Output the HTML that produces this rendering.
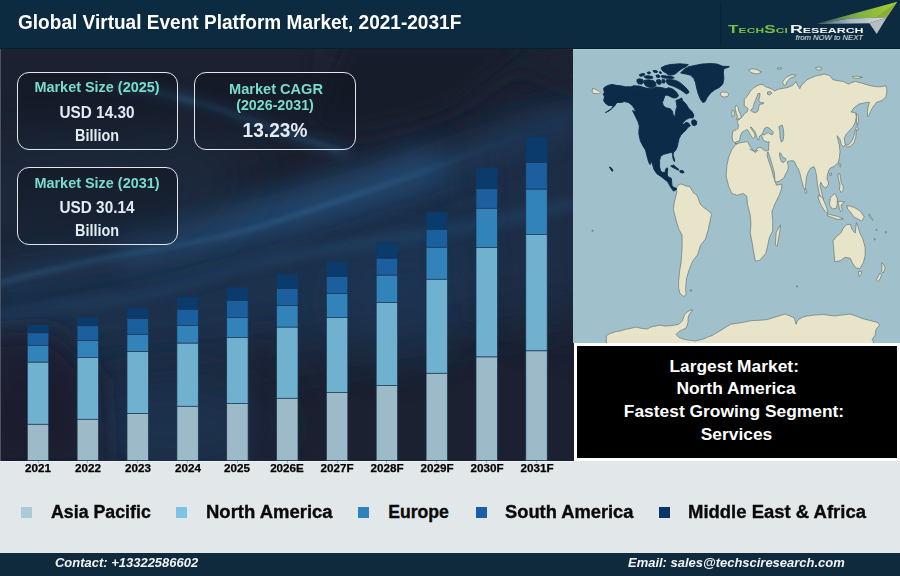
<!DOCTYPE html>
<html><head><meta charset="utf-8"><style>
*{margin:0;padding:0;box-sizing:border-box}
html,body{width:900px;height:576px;overflow:hidden;background:#e2e7e9}
body{position:relative;font-family:"Liberation Sans",sans-serif;font-weight:bold}
.t{position:absolute;white-space:nowrap;line-height:1}
.card{position:absolute;border:1.7px solid #e2e6ea;border-radius:12px;background:linear-gradient(180deg,rgba(16,19,30,0.55) 0%,rgba(16,22,36,0.4) 55%,rgba(18,34,54,0.25) 100%)}
</style></head><body>
<div style="position:absolute;left:0;top:0;width:900px;height:48.5px;background:#0c2a40"></div>
<div style="position:absolute;left:0;top:48.5px;width:574px;height:412px;background:#1c2230;overflow:hidden">
<svg width="574" height="412" viewBox="0 48.5 574 412" style="position:absolute;left:0;top:0">
<defs>
<filter id="b30" x="-50%" y="-50%" width="200%" height="200%"><feGaussianBlur stdDeviation="26"/></filter>
<filter id="b20" x="-50%" y="-50%" width="200%" height="200%"><feGaussianBlur stdDeviation="20"/></filter>
<filter id="b14" x="-50%" y="-50%" width="200%" height="200%"><feGaussianBlur stdDeviation="14"/></filter>
<filter id="b6" x="-50%" y="-50%" width="200%" height="200%"><feGaussianBlur stdDeviation="6"/></filter>
<filter id="b3" x="-50%" y="-50%" width="200%" height="200%"><feGaussianBlur stdDeviation="2.5"/></filter>
<linearGradient id="fadeR" x1="0" y1="0" x2="574" y2="0" gradientUnits="userSpaceOnUse"><stop offset="0" stop-color="#3a78a6" stop-opacity="0.5"/><stop offset="0.6" stop-color="#3a78a6" stop-opacity="0.45"/><stop offset="0.85" stop-color="#3a78a6" stop-opacity="0.1"/><stop offset="1" stop-color="#3a78a6" stop-opacity="0"/></linearGradient>
</defs>
<rect x="0" y="48" width="574" height="413" fill="#1b2130"/>
<polygon points="-30,290 150,252 300,212 420,172 600,110 600,300 420,330 250,360 -30,380" fill="#1d3452" opacity="0.8" filter="url(#b30)"/>
<ellipse cx="170" cy="425" rx="110" ry="55" fill="#1d3452" opacity="0.8" filter="url(#b20)"/>
<ellipse cx="400" cy="300" rx="70" ry="60" fill="#1d3654" opacity="0.6" filter="url(#b20)"/>
<polygon points="470,120 600,90 600,330 480,300" fill="#1c2c42" opacity="0.6" filter="url(#b30)"/>
<polygon points="330,48 600,48 600,95 520,60 500,70 455,102 405,120 360,130 320,125" fill="#1c2233" filter="url(#b14)"/>
<polygon points="350,44 525,44 509,54 494,66 450,102 405,117 360,126 320,120" fill="#191b29" filter="url(#b6)"/>
<path d="M120,250 C200,232 260,215 320,198 S400,172 440,160" fill="none" stroke="#2a5f92" stroke-width="40" opacity="0.45" filter="url(#b14)"/>
<path d="M-10,281 C100,255 220,232 300,212 S430,170 480,150 S550,125 590,112" fill="none" stroke="#27598a" stroke-width="18" opacity="0.45" filter="url(#b14)"/>
<path d="M-10,285 C60,266 120,254 180,244 S260,226 300,213 S400,180 460,157 S540,128 590,112" fill="none" stroke="url(#fadeR)" stroke-width="3.5" filter="url(#b3)"/>
<path d="M-10,318 C40,308 90,302 130,296 S200,277 240,266 S330,248 400,238 S520,215 590,200" fill="none" stroke="#2a5a85" stroke-width="9" opacity="0.4" filter="url(#b6)"/>
<path d="M110,84 C160,90 200,100 240,115 S300,138 350,152" fill="none" stroke="#2a5e8a" stroke-width="10" opacity="0.45" filter="url(#b6)"/>
<path d="M120,86 C165,92 200,101 240,116 S300,138 340,150" fill="none" stroke="#4580ad" stroke-width="2.2" opacity="0.55" filter="url(#b3)"/>
<polygon points="-20,335 55,330 100,380 105,470 -20,470" fill="#1a1f2d" opacity="0.85" filter="url(#b14)"/>
<polygon points="250,330 275,330 280,470 245,470" fill="#1a1f2d" opacity="0.6" filter="url(#b14)"/>
<polygon points="-20,150 200,130 260,170 200,240 -20,260" fill="#1d2d44" opacity="0.6" filter="url(#b30)"/>
</svg>
<div style="position:absolute;left:0;top:0;width:1.2px;height:412px;background:#4a5265"></div>
</div>
<svg width="900" height="576" style="position:absolute;left:0;top:0">
<rect x="27.3" y="324.9" width="21.4" height="8.0" fill="#0b3a6d" stroke="#1a3550" stroke-width="0.7"/>
<rect x="27.3" y="332.9" width="21.4" height="12.4" fill="#1c5f9f" stroke="#1a3550" stroke-width="0.7"/>
<rect x="27.3" y="345.3" width="21.4" height="16.9" fill="#3283ba" stroke="#1a3550" stroke-width="0.7"/>
<rect x="27.3" y="362.2" width="21.4" height="62.1" fill="#70b1d0" stroke="#1a3550" stroke-width="0.7"/>
<rect x="27.3" y="424.3" width="21.4" height="36.2" fill="#9dbac8" stroke="#1a3550" stroke-width="0.7"/>
<rect x="77.1" y="317.2" width="21.4" height="8.6" fill="#0b3a6d" stroke="#1a3550" stroke-width="0.7"/>
<rect x="77.1" y="325.8" width="21.4" height="14.7" fill="#1c5f9f" stroke="#1a3550" stroke-width="0.7"/>
<rect x="77.1" y="340.5" width="21.4" height="16.9" fill="#3283ba" stroke="#1a3550" stroke-width="0.7"/>
<rect x="77.1" y="357.4" width="21.4" height="61.9" fill="#70b1d0" stroke="#1a3550" stroke-width="0.7"/>
<rect x="77.1" y="419.3" width="21.4" height="41.2" fill="#9dbac8" stroke="#1a3550" stroke-width="0.7"/>
<rect x="127.0" y="308.0" width="21.4" height="10.7" fill="#0b3a6d" stroke="#1a3550" stroke-width="0.7"/>
<rect x="127.0" y="318.7" width="21.4" height="15.6" fill="#1c5f9f" stroke="#1a3550" stroke-width="0.7"/>
<rect x="127.0" y="334.3" width="21.4" height="17.3" fill="#3283ba" stroke="#1a3550" stroke-width="0.7"/>
<rect x="127.0" y="351.6" width="21.4" height="61.9" fill="#70b1d0" stroke="#1a3550" stroke-width="0.7"/>
<rect x="127.0" y="413.5" width="21.4" height="47.0" fill="#9dbac8" stroke="#1a3550" stroke-width="0.7"/>
<rect x="176.9" y="297.0" width="21.4" height="12.4" fill="#0b3a6d" stroke="#1a3550" stroke-width="0.7"/>
<rect x="176.9" y="309.4" width="21.4" height="16.0" fill="#1c5f9f" stroke="#1a3550" stroke-width="0.7"/>
<rect x="176.9" y="325.4" width="21.4" height="17.8" fill="#3283ba" stroke="#1a3550" stroke-width="0.7"/>
<rect x="176.9" y="343.2" width="21.4" height="63.1" fill="#70b1d0" stroke="#1a3550" stroke-width="0.7"/>
<rect x="176.9" y="406.3" width="21.4" height="54.2" fill="#9dbac8" stroke="#1a3550" stroke-width="0.7"/>
<rect x="226.7" y="287.2" width="21.4" height="13.4" fill="#0b3a6d" stroke="#1a3550" stroke-width="0.7"/>
<rect x="226.7" y="300.6" width="21.4" height="16.8" fill="#1c5f9f" stroke="#1a3550" stroke-width="0.7"/>
<rect x="226.7" y="317.4" width="21.4" height="20.1" fill="#3283ba" stroke="#1a3550" stroke-width="0.7"/>
<rect x="226.7" y="337.5" width="21.4" height="66.0" fill="#70b1d0" stroke="#1a3550" stroke-width="0.7"/>
<rect x="226.7" y="403.5" width="21.4" height="57.0" fill="#9dbac8" stroke="#1a3550" stroke-width="0.7"/>
<rect x="276.6" y="274.2" width="21.4" height="14.3" fill="#0b3a6d" stroke="#1a3550" stroke-width="0.7"/>
<rect x="276.6" y="288.5" width="21.4" height="17.0" fill="#1c5f9f" stroke="#1a3550" stroke-width="0.7"/>
<rect x="276.6" y="305.5" width="21.4" height="21.7" fill="#3283ba" stroke="#1a3550" stroke-width="0.7"/>
<rect x="276.6" y="327.2" width="21.4" height="71.1" fill="#70b1d0" stroke="#1a3550" stroke-width="0.7"/>
<rect x="276.6" y="398.3" width="21.4" height="62.2" fill="#9dbac8" stroke="#1a3550" stroke-width="0.7"/>
<rect x="326.4" y="261.5" width="21.4" height="15.0" fill="#0b3a6d" stroke="#1a3550" stroke-width="0.7"/>
<rect x="326.4" y="276.5" width="21.4" height="17.0" fill="#1c5f9f" stroke="#1a3550" stroke-width="0.7"/>
<rect x="326.4" y="293.5" width="21.4" height="24.0" fill="#3283ba" stroke="#1a3550" stroke-width="0.7"/>
<rect x="326.4" y="317.5" width="21.4" height="74.9" fill="#70b1d0" stroke="#1a3550" stroke-width="0.7"/>
<rect x="326.4" y="392.4" width="21.4" height="68.1" fill="#9dbac8" stroke="#1a3550" stroke-width="0.7"/>
<rect x="376.2" y="242.3" width="21.4" height="16.0" fill="#0b3a6d" stroke="#1a3550" stroke-width="0.7"/>
<rect x="376.2" y="258.3" width="21.4" height="16.9" fill="#1c5f9f" stroke="#1a3550" stroke-width="0.7"/>
<rect x="376.2" y="275.2" width="21.4" height="27.3" fill="#3283ba" stroke="#1a3550" stroke-width="0.7"/>
<rect x="376.2" y="302.5" width="21.4" height="82.9" fill="#70b1d0" stroke="#1a3550" stroke-width="0.7"/>
<rect x="376.2" y="385.4" width="21.4" height="75.1" fill="#9dbac8" stroke="#1a3550" stroke-width="0.7"/>
<rect x="426.1" y="212.1" width="21.4" height="17.4" fill="#0b3a6d" stroke="#1a3550" stroke-width="0.7"/>
<rect x="426.1" y="229.5" width="21.4" height="17.8" fill="#1c5f9f" stroke="#1a3550" stroke-width="0.7"/>
<rect x="426.1" y="247.3" width="21.4" height="32.0" fill="#3283ba" stroke="#1a3550" stroke-width="0.7"/>
<rect x="426.1" y="279.3" width="21.4" height="94.0" fill="#70b1d0" stroke="#1a3550" stroke-width="0.7"/>
<rect x="426.1" y="373.3" width="21.4" height="87.2" fill="#9dbac8" stroke="#1a3550" stroke-width="0.7"/>
<rect x="476.0" y="167.8" width="21.4" height="21.0" fill="#0b3a6d" stroke="#1a3550" stroke-width="0.7"/>
<rect x="476.0" y="188.8" width="21.4" height="19.5" fill="#1c5f9f" stroke="#1a3550" stroke-width="0.7"/>
<rect x="476.0" y="208.3" width="21.4" height="39.2" fill="#3283ba" stroke="#1a3550" stroke-width="0.7"/>
<rect x="476.0" y="247.5" width="21.4" height="109.5" fill="#70b1d0" stroke="#1a3550" stroke-width="0.7"/>
<rect x="476.0" y="357.0" width="21.4" height="103.5" fill="#9dbac8" stroke="#1a3550" stroke-width="0.7"/>
<rect x="525.8" y="136.7" width="21.4" height="25.8" fill="#0b3a6d" stroke="#1a3550" stroke-width="0.7"/>
<rect x="525.8" y="162.5" width="21.4" height="26.7" fill="#1c5f9f" stroke="#1a3550" stroke-width="0.7"/>
<rect x="525.8" y="189.2" width="21.4" height="45.2" fill="#3283ba" stroke="#1a3550" stroke-width="0.7"/>
<rect x="525.8" y="234.4" width="21.4" height="116.5" fill="#70b1d0" stroke="#1a3550" stroke-width="0.7"/>
<rect x="525.8" y="350.9" width="21.4" height="109.6" fill="#9dbac8" stroke="#1a3550" stroke-width="0.7"/>
</svg>
<div style="position:absolute;left:573px;top:48.5px;width:327px;height:294.5px;background:#a0c0cc;overflow:hidden"><svg width="327" height="295" viewBox="573 48.5 327 295" style="position:absolute;left:0;top:0">
<g fill="#e8e4c9" stroke="#4f5f5a" stroke-width="0.55" stroke-linejoin="round">
<polygon points="592.6,87.7 595.9,89.1 598.8,90.6 600.2,92.0 598.8,93.4 595.9,93.0 593.1,93.0 592.1,90.6"/>
<polygon points="676.3,188.5 677.6,185.0 680.4,183.6 682.5,184.0 686.7,185.7 689.4,185.7 690.8,187.8 693.6,192.6 696.4,194.0 697.8,196.8 700.3,203.7 703.8,207.1 709.0,210.6 711.6,214.1 710.5,218.0 709.9,221.0 708.1,229.7 705.5,238.4 700.3,245.3 697.7,254.0 692.5,260.9 689.0,269.6 686.4,278.3 685.6,288.7 686.2,294.1 683.4,296.0 679.7,292.3 678.6,287.0 678.6,281.7 679.5,271.3 681.2,260.9 682.1,247.0 682.1,234.9 678.6,228.0 676.0,219.3 673.4,208.9 674.3,201.9 676.0,195.0 677.0,191.3"/>
<polygon points="736.3,143.7 738.8,142.8 743.0,142.0 746.3,142.4 748.0,145.3 749.7,148.7 753.0,150.3 755.5,152.0 758.0,149.5 761.3,148.7 764.7,150.3 767.2,149.5 768.8,147.8 769.3,150.0 767.1,152.5 767.1,155.6 769.2,161.9 771.3,168.1 773.3,175.4 775.4,181.7 776.5,184.8 780.6,183.8 782.0,183.8 781.4,188.7 778.8,195.6 775.3,202.6 771.9,211.3 772.7,219.9 772.7,230.3 769.3,237.3 767.5,246.0 765.8,252.9 759.7,259.9 755.4,260.7 753.6,251.2 751.9,240.8 750.2,232.1 751.0,223.4 750.2,214.7 747.6,204.3 746.7,195.6 743.2,193.0 737.2,194.8 731.9,193.0 728.7,185.9 726.1,175.5 726.9,165.1 728.7,156.4 732.1,148.6 735.0,145.0"/>
<polygon points="780.6,224.3 779.7,232.1 777.1,246.0 775.3,244.2 776.2,232.1 778.0,228.6"/>
<polygon points="735.9,142.4 734.7,142.0 732.6,140.3 732.2,136.2 732.6,131.2 734.7,129.9 738.0,128.7 738.4,124.5 737.2,121.3 738.0,119.7 740.5,118.0 742.2,116.3 744.7,113.0 747.2,111.3 748.0,108.0 746.5,106.8 744.3,105.5 744.3,98.8 747.2,95.5 750.5,90.5 753.8,87.2 758.0,84.7 761.3,83.8 763.8,84.7 765.5,86.3 768.8,87.2 772.2,88.8 774.7,90.5 778.0,88.8 782.2,88.0 785.9,87.3 788.5,86.8 792.9,84.7 795.0,82.5 796.3,81.2 797.5,84.5 799.8,88.2 801.0,85.5 803.3,83.0 806.9,79.3 810.2,77.8 814.0,76.2 817.4,75.0 821.0,74.5 824.1,73.5 829.5,75.0 833.0,79.3 838.0,80.2 843.4,81.0 848.6,83.6 852.0,82.0 855.6,81.0 859.0,82.0 862.5,82.8 866.0,84.0 871.2,85.4 875.0,86.0 879.9,86.3 885.9,85.4 886.8,88.5 886.8,91.5 885.9,96.7 881.6,100.1 876.4,101.9 874.5,104.5 872.9,106.5 870.5,111.0 869.0,115.0 867.7,116.5 867.4,111.0 868.3,105.5 869.5,102.0 866.5,101.8 864.9,102.4 858.9,103.6 854.0,107.3 851.0,111.5 855.2,112.1 856.4,115.8 855.2,121.9 852.8,126.7 849.2,130.4 846.1,134.0 844.3,137.7 844.9,142.5 845.5,144.5 843.1,146.2 841.3,143.7 840.0,138.9 838.2,136.4 837.0,135.2 838.2,140.1 839.4,144.9 840.0,151.0 839.4,157.1 838.2,161.9 834.6,165.6 829.7,168.0 828.6,170.4 827.5,174.0 826.9,178.2 828.2,181.0 828.6,183.4 826.0,187.7 824.0,186.5 822.6,185.1 820.8,181.7 820.0,185.1 821.7,192.1 823.4,199.0 821.7,199.9 819.1,192.1 817.4,183.4 816.5,174.7 815.5,170.0 813.9,166.0 810.4,167.8 808.5,171.0 806.7,175.4 806.1,179.6 805.6,185.8 805.1,189.0 803.5,186.9 801.5,179.6 800.4,174.4 798.3,168.1 797.1,166.9 795.5,163.2 794.0,160.6 791.9,160.1 789.3,160.6 787.2,161.2 788.2,164.8 788.2,167.9 787.2,171.0 785.6,173.6 783.8,177.5 779.6,180.6 775.4,181.7 774.9,179.6 774.4,172.3 772.3,165.0 770.2,157.7 768.1,151.5 769.3,146.0 768.8,141.2 766.3,140.8 763.8,141.2 761.3,140.3 760.1,137.0 759.0,135.5 758.0,138.7 756.3,140.8 755.5,139.5 753.0,138.7 750.5,136.2 748.4,132.8 747.0,130.0 744.7,130.3 742.2,132.0 740.5,136.2 738.8,141.2"/>
<polygon points="736.3,104.7 738.0,106.3 738.8,110.5 740.5,113.8 741.3,117.2 739.7,118.0 736.3,118.8 737.6,116.3 736.3,113.0 735.5,109.7 735.1,107.2"/>
<polygon points="732.2,109.7 734.3,110.5 734.3,114.7 732.2,116.3 731.8,113.0"/>
<polygon points="720.2,92.5 723.0,91.4 726.5,91.8 728.9,93.5 727.5,96.0 723.5,96.6 720.8,95.0"/>
<polygon points="748.6,69.5 752.0,68.2 756.0,68.8 759.0,70.2 761.6,71.5 758.0,73.4 754.0,73.0 751.0,72.0"/>
<polygon points="777.3,67.5 781.6,67.3 781.0,68.6 777.8,68.6"/>
<polygon points="783.3,83.8 782.6,81.4 784.5,78.8 786.4,76.8 791.1,74.4 795.8,74.4 795.0,76.0 790.3,77.6 787.2,80.7 785.7,84.6 784.1,84.9"/>
<polygon points="815.4,67.5 818.5,66.5 822.0,67.5 821.0,69.5 817.5,69.2"/>
<polygon points="852.0,76.0 857.0,75.6 862.5,76.8 858.0,77.8 853.5,77.4"/>
<polygon points="856.4,126.1 858.3,127.5 858.0,129.8 856.4,129.2 855.8,136.4 854.0,142.5 850.4,145.5 847.3,146.8 846.1,144.9 849.2,143.7 852.2,140.1 854.0,135.2 855.2,130.4"/>
<polygon points="856.5,113.0 858.0,114.0 858.5,120.0 857.5,125.0 856.5,122.0 856.5,117.0"/>
<polygon points="839.0,162.6 840.8,163.5 840.5,166.5 839.2,165.5"/>
<polygon points="829.5,173.0 831.5,172.6 831.3,174.8 829.8,175.0"/>
<polygon points="805.2,188.5 806.6,189.5 806.8,192.5 805.5,193.0 804.8,190.5"/>
<polygon points="838.2,173.0 840.0,173.5 840.5,178.0 841.5,183.0 843.4,186.0 843.0,190.0 841.0,192.0 839.5,189.0 840.0,184.0 838.8,180.0 838.0,176.0"/>
<polygon points="834.7,193.0 837.3,197.5 837.3,203.0 836.5,207.7 832.1,208.6 829.5,204.2 830.4,197.3 832.5,195.0"/>
<polygon points="818.2,194.7 822.6,197.3 826.9,207.7 827.8,212.9 825.2,211.2 820.8,204.2 818.2,197.3"/>
<polygon points="827.5,213.5 833.0,214.8 838.0,216.0 843.4,218.5 838.0,219.0 832.0,217.0 827.0,215.0"/>
<polygon points="838.0,201.0 841.0,200.8 844.5,201.5 842.0,203.5 841.0,206.0 842.5,210.0 840.5,211.0 839.0,206.0 838.5,203.0"/>
<polygon points="846.9,205.1 850.0,205.6 853.8,206.8 857.0,208.5 860.8,211.2 862.5,214.0 864.2,216.4 861.6,220.7 857.3,218.1 853.8,216.4 850.3,211.2 847.7,208.6"/>
<polygon points="833.0,241.3 833.9,249.9 834.7,261.2 839.9,260.3 845.1,256.9 850.3,257.7 852.1,262.1 855.6,267.3 859.9,268.2 863.4,262.1 865.1,255.1 865.1,246.5 862.5,237.8 859.9,232.6 857.3,223.9 856.4,222.2 855.2,232.6 852.1,229.1 850.3,223.9 846.9,223.9 843.4,227.4 840.8,232.6 836.5,236.0 833.0,240.4"/>
<polygon points="858.2,271.0 861.4,270.8 861.0,274.5 859.2,276.0"/>
<polygon points="881.6,262.1 883.5,264.0 885.1,267.3 883.3,272.5 881.6,270.8 882.0,267.0"/>
<polygon points="879.9,272.5 881.6,274.5 880.0,278.5 878.1,281.2 876.4,279.4 878.1,276.0"/>
<polygon points="592.0,229.8 593.3,230.0 593.0,230.9 591.9,230.7"/>
<polygon points="796.5,285.4 797.6,285.5 797.4,286.4 796.4,286.3"/>
<polygon points="869.2,213.5 870.5,215.5 872.8,219.0 872.5,220.0 870.0,216.5 868.9,214.5"/>
<polygon points="876.0,228.5 877.0,229.2 876.8,230.3 875.9,229.6"/>
<polygon points="885.5,231.2 886.6,230.8 886.3,232.4 885.3,232.6"/>
<polygon points="874.3,238.0 875.3,238.3 875.1,239.6 874.1,239.3"/>
<polygon points="690.0,289.5 691.8,289.3 691.5,290.6 690.2,290.6"/>
<polygon points="573.0,343.5 573.0,343.0 606.4,343.0 606.4,335.0 610.1,333.1 615.7,331.2 620.0,330.5 625.0,329.0 630.0,328.0 636.1,326.6 641.0,327.8 647.2,328.5 651.0,326.5 654.6,325.7 660.2,324.7 665.0,325.5 669.5,325.3 674.0,324.8 678.8,323.8 682.5,320.1 684.3,314.5 687.0,311.5 689.9,309.9 692.7,309.3 691.0,311.5 689.0,314.5 688.0,318.0 688.0,322.0 686.2,327.5 682.0,329.5 678.8,331.2 676.0,334.0 678.8,336.8 683.0,338.5 688.0,339.6 695.5,340.5 702.9,338.7 708.0,336.5 712.2,335.0 717.0,332.0 721.5,329.4 726.0,326.5 730.7,323.8 736.3,322.9 742.0,322.0 751.6,320.1 759.0,319.8 766.4,319.2 770.1,318.2 777.0,316.0 785.0,313.6 790.0,315.5 794.2,317.3 796.1,323.8 797.5,320.0 799.8,318.2 803.0,316.5 807.2,315.5 815.0,314.5 823.9,314.0 830.0,315.0 835.1,315.5 842.0,314.5 849.9,313.6 856.0,315.5 862.9,318.2 870.0,320.0 877.7,322.0 879.6,324.7 877.5,327.0 875.9,329.4 875.0,335.0 872.2,338.7 874.0,343.0 874.0,344.0 573.0,344.0"/>
</g>
<g fill="#e8e4c9">
<polygon points="736.5,129.0 771.0,125.0 771.0,151.5 737.5,146.5"/>
</g>
<g fill="#a0c0cc" stroke="#4f5f5a" stroke-width="0.55" stroke-linejoin="round">
<polygon points="734.9,142.2 736.8,141.1 739.1,140.6 739.9,138.5 740.2,136.5 740.9,133.9 742.5,131.3 744.6,130.2 746.7,129.2 748.0,129.7 749.3,132.3 750.8,134.9 752.4,137.0 753.4,138.0 754.2,137.2 755.0,135.4 754.5,132.8 752.9,130.7 751.4,128.6 750.3,126.6 751.9,127.1 753.4,129.2 755.0,131.3 756.0,133.9 757.1,137.0 757.6,139.1 758.9,139.6 759.2,137.0 759.7,135.4 761.3,134.4 762.3,137.0 763.3,139.6 765.9,141.1 768.0,141.7 769.1,141.1 768.8,145.8 768.5,150.0 766.5,150.5 763.9,149.5 761.3,147.4 759.2,146.9 757.1,147.9 755.5,150.5 754.5,151.0 752.4,149.0 750.8,146.9 749.3,144.8 748.2,141.7 746.7,141.1 743.5,141.7 740.4,142.2 737.3,143.2 735.2,143.0"/>
<polygon points="779.6,152.3 780.9,152.8 782.0,155.4 784.1,157.5 785.6,157.8 786.1,159.6 785.1,160.6 783.0,162.2 781.5,161.1 780.4,158.5 779.6,155.4"/>
<polygon points="758.0,93.0 760.1,93.0 759.7,96.3 758.8,99.7 760.5,102.2 763.8,102.2 763.0,103.4 759.7,103.8 758.8,106.3 758.0,110.5 755.5,112.2 752.2,111.3 750.5,109.7 753.0,108.0 753.8,103.8 755.5,99.7 756.8,96.3"/>
<polygon points="761.8,133.9 763.3,131.3 764.4,128.1 766.5,126.6 769.1,127.6 771.1,129.2 773.2,131.3 772.7,133.9 770.6,133.9 768.5,132.3 766.5,132.8 764.4,134.4"/>
<polygon points="778.8,126.2 782.2,124.5 783.4,128.7 783.8,134.5 783.0,140.3 781.3,141.6 780.1,137.0 779.7,130.3"/>
<polygon points="767.5,91.5 770.5,91.0 772.0,92.8 769.5,94.5 767.5,93.8"/>
</g>
<g fill="#0b2b48" stroke="#0b2b48" stroke-width="0.9" stroke-linejoin="round">
<polygon points="603.6,88.2 604.5,86.7 608.3,84.8 612.2,83.9 616.0,84.8 620.8,85.3 625.5,86.3 630.3,86.3 634.1,85.8 638.0,85.8 641.8,86.7 642.0,88.2 645.0,87.6 648.0,88.8 652.0,88.6 655.0,89.8 658.0,89.2 661.0,90.4 664.0,91.5 665.0,94.5 664.0,97.9 662.4,102.1 663.4,105.2 666.0,107.3 670.2,108.3 672.3,110.4 673.3,114.6 674.4,116.7 675.4,113.5 675.9,109.4 677.0,106.3 676.5,103.1 675.9,100.0 678.5,99.0 681.7,97.4 682.6,100.0 686.0,103.5 688.6,107.8 692.1,111.3 693.9,114.8 693.0,117.4 689.5,117.4 686.0,119.1 682.6,122.6 683.4,124.3 686.0,121.7 688.6,122.6 690.4,125.2 687.8,126.9 686.0,129.5 683.4,132.1 680.8,134.7 679.1,138.2 678.2,141.7 677.4,146.0 675.6,150.0 673.6,151.5 672.6,155.8 673.6,160.0 674.7,161.0 674.2,157.9 672.6,153.5 671.6,151.7 667.9,152.7 663.8,153.8 660.6,155.8 659.6,160.0 659.6,166.3 660.6,170.4 662.4,171.8 665.1,171.8 665.8,168.3 667.2,167.3 667.9,168.3 667.2,172.5 667.6,176.0 669.3,176.7 671.4,178.0 671.7,182.2 672.1,185.7 674.2,187.1 676.3,187.8 676.6,188.8 675.6,189.6 673.5,190.6 671.4,187.8 669.3,184.3 667.9,181.5 664.4,178.8 661.0,176.0 656.8,173.2 654.0,169.0 652.6,164.2 650.9,160.0 650.2,164.2 649.2,162.8 647.6,158.0 645.5,149.6 642.9,145.4 640.3,140.2 638.8,132.9 639.3,125.6 638.2,121.5 635.6,116.3 632.5,110.0 636.0,111.6 634.1,107.8 632.2,104.9 628.4,102.0 624.6,101.1 620.8,102.0 616.9,102.0 615.0,104.9 612.2,107.8 606.4,111.6 605.5,112.1 610.2,109.7 613.1,105.8 611.2,104.9 608.3,104.9 605.5,103.0 603.6,100.1 604.5,96.3 603.1,93.4 604.5,92.5"/>
<polygon points="680.6,72.4 683.9,69.1 688.3,66.3 695.0,64.9 701.7,63.6 710.6,63.0 717.2,63.6 722.8,65.8 729.4,66.0 728.3,66.9 723.9,68.0 723.3,72.4 723.9,78.0 722.8,83.6 719.4,86.9 715.0,89.1 710.6,92.4 707.2,96.9 705.0,101.3 702.8,101.9 700.6,99.1 698.3,93.6 696.7,88.0 695.6,82.4 693.9,78.0 690.6,74.7 686.1,73.6 682.8,73.0"/>
<polygon points="661.0,67.3 665.0,65.3 670.3,64.0 679.7,63.3 688.3,64.0 686.3,66.0 682.3,68.0 678.3,70.7 675.7,73.3 673.0,74.3 669.0,74.7 666.3,72.7 663.0,70.7 661.7,69.0"/>
<polygon points="661.7,75.0 666.3,75.5 671.7,76.0 674.3,77.2 672.3,78.1 666.3,77.7 662.3,77.2 661.0,76.0"/>
<polygon points="639.3,74.3 641.7,73.2 644.3,73.1 644.7,74.3 642.3,75.5 640.0,75.7"/>
<polygon points="647.0,72.1 649.0,71.3 650.5,72.0 650.0,73.2 648.0,73.3"/>
<polygon points="653.0,70.1 655.7,69.9 657.8,71.0 657.0,72.1 654.3,72.0"/>
<polygon points="659.3,71.5 661.0,71.3 661.5,72.7 660.0,73.0"/>
<polygon points="644.0,75.7 647.7,75.2 652.3,76.0 653.0,77.5 649.7,78.0 645.3,77.5"/>
<polygon points="656.0,74.8 658.7,74.3 660.0,75.7 659.3,77.0 656.7,76.8"/>
<polygon points="637.0,79.0 639.7,78.3 643.0,79.3 643.3,82.0 641.7,83.7 638.3,83.3 637.0,81.3"/>
<polygon points="644.0,80.0 648.3,79.3 653.0,80.0 655.7,82.0 656.0,85.3 653.0,87.0 649.0,86.7 645.7,85.3 644.0,82.7"/>
<polygon points="656.7,79.5 659.7,79.0 661.3,80.7 661.0,83.3 658.7,84.0 656.7,82.3"/>
<polygon points="662.0,79.3 664.3,79.0 665.3,80.7 664.3,82.7 662.3,82.3"/>
<polygon points="666.3,79.3 670.3,79.0 675.7,79.9 679.7,81.9 683.7,85.2 687.7,89.2 689.1,92.0 686.3,93.5 683.7,91.5 681.0,89.5 678.3,88.1 675.7,86.8 673.0,85.5 670.3,84.8 667.7,83.5 666.2,81.3"/>
<polygon points="633.0,85.3 639.7,85.7 646.3,87.7 653.0,87.9 656.3,86.5 661.0,87.0 665.0,87.9 668.3,89.9 670.3,92.0 673.0,90.7 674.3,94.7 633.0,94.7"/>
<polygon points="665.5,88.5 668.5,87.2 672.0,88.2 675.0,90.2 677.0,92.5 678.5,95.5 676.5,97.2 673.5,97.5 670.5,96.2 668.0,94.8 666.5,92.5"/>
<polygon points="692.1,119.8 694.5,119.2 696.8,121.0 696.5,124.0 694.5,125.2 692.5,124.5 691.5,122.0"/>
<polygon points="670.7,165.6 673.5,164.5 676.3,166.9 679.0,169.0 678.3,169.7 675.6,168.3 672.1,166.6"/>
<polygon points="679.7,170.4 682.0,169.8 684.2,171.4 683.2,172.6 680.4,172.0"/>
<polygon points="609.5,166.4 611.5,167.5 613.0,170.2 612.0,170.8 610.5,168.5"/>
</g>
</svg></div>
<div style="position:absolute;left:573px;top:48.5px;width:327px;height:1px;background:#aecad7;opacity:0.8"></div>
<div style="position:absolute;left:0;top:47.5px;width:900px;height:1px;background:#07202f"></div>
<div style="position:absolute;left:574px;top:343px;width:326px;height:118px;background:#fff"></div>
<div style="position:absolute;left:577px;top:346px;width:320px;height:112px;background:#000"></div>
<div style="position:absolute;left:0;top:460.5px;width:574px;height:1px;background:#eef2f4"></div>
<div style="position:absolute;left:0;top:552.5px;width:900px;height:23.5px;background:#0f2a3d"></div>
<div style="position:absolute;left:720px;top:3.5px;width:1px;height:40px;background:#0a2133"></div>
<svg width="900" height="48" style="position:absolute;left:0;top:0">
<defs>
<linearGradient id="lg1" x1="815" y1="0" x2="897" y2="0" gradientUnits="userSpaceOnUse"><stop offset="0" stop-color="#2f4c62"/><stop offset="0.45" stop-color="#7aa848"/><stop offset="1" stop-color="#a6d030"/></linearGradient>
<linearGradient id="lg2" x1="815" y1="0" x2="887" y2="0" gradientUnits="userSpaceOnUse"><stop offset="0" stop-color="#35566c"/><stop offset="0.5" stop-color="#a9b7bf"/><stop offset="1" stop-color="#d4dadc"/></linearGradient>
</defs>
<polygon points="815.6,23.9 897.2,1.7 886.7,17.5 850,18.5" fill="url(#lg1)"/>
<polygon points="876,16.8 897.2,1.7 886.7,17.5" fill="#8cae38"/>
<polygon points="815.6,23.9 850,18.5 886.7,17.5 869.4,23.3" fill="url(#lg2)"/>
<polygon points="869.4,23.3 886.7,17.5 876.7,33.9" fill="#b4bec3"/>
</svg>
<div class="t" style="left:727.6px;top:24.7px;font-size:10px;font-variant:small-caps;color:#78c043;transform:scaleX(1.7);transform-origin:0 0;letter-spacing:0.1px">TechSci</div>
<div class="t" style="left:790.2px;top:24.7px;font-size:10px;font-variant:small-caps;color:#f4f6f6;transform:scaleX(1.775);transform-origin:0 0">Research</div>
<div class="t" style="left:795.5px;top:34.3px;font-size:7.7px;font-style:italic;font-weight:normal;color:#e8eef0">from NOW to NEXT</div>
<div class="card" style="left:17px;top:71.6px;width:161px;height:78.4px"></div>
<div class="card" style="left:194px;top:71.6px;width:162px;height:78.4px"></div>
<div class="card" style="left:17px;top:166.6px;width:161px;height:78.4px"></div>
<div class="t" style="left:-3.0px;top:80px;width:200px;text-align:center;font-size:14.8px;transform:scaleX(0.975);transform-origin:50% 0;color:#78dccb;">Market Size (2025)</div>
<div class="t" style="left:-3.0px;top:104px;width:200px;text-align:center;font-size:17px;transform:scaleX(0.9);transform-origin:50% 0;color:#e2ebf2;">USD 14.30</div>
<div class="t" style="left:-2.8px;top:128px;width:200px;text-align:center;font-size:16px;transform:scaleX(0.9);transform-origin:50% 0;color:#e2ebf2;">Billion</div>
<div class="t" style="left:176.3px;top:82px;width:200px;text-align:center;font-size:14.8px;transform:scaleX(0.985);transform-origin:50% 0;color:#78dccb;">Market CAGR</div>
<div class="t" style="left:174.8px;top:98px;width:200px;text-align:center;font-size:14.4px;transform:scaleX(0.99);transform-origin:50% 0;color:#78dccb;">(2026-2031)</div>
<div class="t" style="left:175.0px;top:121px;width:200px;text-align:center;font-size:19.5px;transform:scaleX(0.98);transform-origin:50% 0;color:#e2ebf2;">13.23%</div>
<div class="t" style="left:-3.0px;top:176px;width:200px;text-align:center;font-size:14.8px;transform:scaleX(0.975);transform-origin:50% 0;color:#78dccb;">Market Size (2031)</div>
<div class="t" style="left:-3.0px;top:199px;width:200px;text-align:center;font-size:17px;transform:scaleX(0.9);transform-origin:50% 0;color:#e2ebf2;">USD 30.14</div>
<div class="t" style="left:-2.8px;top:223px;width:200px;text-align:center;font-size:16px;transform:scaleX(0.9);transform-origin:50% 0;color:#e2ebf2;">Billion</div>
<div class="t" style="left:574.2px;top:358px;width:320px;text-align:center;font-size:17.4px;color:#fff;">Largest Market:</div>
<div class="t" style="left:576.0px;top:380px;width:320px;text-align:center;font-size:17.4px;color:#fff;">North America</div>
<div class="t" style="left:574.0px;top:403px;width:320px;text-align:center;font-size:17.4px;color:#fff;">Fastest Growing Segment:</div>
<div class="t" style="left:576.5px;top:426px;width:320px;text-align:center;font-size:17.4px;color:#fff;">Services</div>
<div style="position:absolute;left:37.5px;top:461px;width:1px;height:2px;background:#a9b1b5"></div>
<div class="t" style="left:8.0px;top:463px;width:60px;text-align:center;font-size:10.8px;transform:scaleX(1.08);transform-origin:50% 0;color:#000;-webkit-text-stroke:0.25px #000;">2021</div>
<div style="position:absolute;left:87.3px;top:461px;width:1px;height:2px;background:#a9b1b5"></div>
<div class="t" style="left:57.8px;top:463px;width:60px;text-align:center;font-size:10.8px;transform:scaleX(1.08);transform-origin:50% 0;color:#000;-webkit-text-stroke:0.25px #000;">2022</div>
<div style="position:absolute;left:137.2px;top:461px;width:1px;height:2px;background:#a9b1b5"></div>
<div class="t" style="left:107.7px;top:463px;width:60px;text-align:center;font-size:10.8px;transform:scaleX(1.08);transform-origin:50% 0;color:#000;-webkit-text-stroke:0.25px #000;">2023</div>
<div style="position:absolute;left:187.1px;top:461px;width:1px;height:2px;background:#a9b1b5"></div>
<div class="t" style="left:157.6px;top:463px;width:60px;text-align:center;font-size:10.8px;transform:scaleX(1.08);transform-origin:50% 0;color:#000;-webkit-text-stroke:0.25px #000;">2024</div>
<div style="position:absolute;left:236.9px;top:461px;width:1px;height:2px;background:#a9b1b5"></div>
<div class="t" style="left:207.4px;top:463px;width:60px;text-align:center;font-size:10.8px;transform:scaleX(1.08);transform-origin:50% 0;color:#000;-webkit-text-stroke:0.25px #000;">2025</div>
<div style="position:absolute;left:286.8px;top:461px;width:1px;height:2px;background:#a9b1b5"></div>
<div class="t" style="left:257.2px;top:463px;width:60px;text-align:center;font-size:10.8px;transform:scaleX(1.08);transform-origin:50% 0;color:#000;-webkit-text-stroke:0.25px #000;">2026E</div>
<div style="position:absolute;left:336.6px;top:461px;width:1px;height:2px;background:#a9b1b5"></div>
<div class="t" style="left:307.1px;top:463px;width:60px;text-align:center;font-size:10.8px;transform:scaleX(1.08);transform-origin:50% 0;color:#000;-webkit-text-stroke:0.25px #000;">2027F</div>
<div style="position:absolute;left:386.4px;top:461px;width:1px;height:2px;background:#a9b1b5"></div>
<div class="t" style="left:356.9px;top:463px;width:60px;text-align:center;font-size:10.8px;transform:scaleX(1.08);transform-origin:50% 0;color:#000;-webkit-text-stroke:0.25px #000;">2028F</div>
<div style="position:absolute;left:436.3px;top:461px;width:1px;height:2px;background:#a9b1b5"></div>
<div class="t" style="left:406.8px;top:463px;width:60px;text-align:center;font-size:10.8px;transform:scaleX(1.08);transform-origin:50% 0;color:#000;-webkit-text-stroke:0.25px #000;">2029F</div>
<div style="position:absolute;left:486.2px;top:461px;width:1px;height:2px;background:#a9b1b5"></div>
<div class="t" style="left:456.7px;top:463px;width:60px;text-align:center;font-size:10.8px;transform:scaleX(1.08);transform-origin:50% 0;color:#000;-webkit-text-stroke:0.25px #000;">2030F</div>
<div style="position:absolute;left:536.0px;top:461px;width:1px;height:2px;background:#a9b1b5"></div>
<div class="t" style="left:506.5px;top:463px;width:60px;text-align:center;font-size:10.8px;transform:scaleX(1.08);transform-origin:50% 0;color:#000;-webkit-text-stroke:0.25px #000;">2031F</div>
<div style="position:absolute;left:21px;top:507px;width:11px;height:11px;background:#a8cadb"></div>
<div class="t" style="left:51.1px;top:504px;font-size:17.6px;transform:scaleX(1.01);transform-origin:0 0;color:#0a0a0a;-webkit-text-stroke:0.35px #0a0a0a;">Asia Pacific</div>
<div style="position:absolute;left:176px;top:507px;width:11px;height:11px;background:#7ec3e3"></div>
<div class="t" style="left:205.6px;top:504px;font-size:17.6px;transform:scaleX(1.05);transform-origin:0 0;color:#0a0a0a;-webkit-text-stroke:0.35px #0a0a0a;">North America</div>
<div style="position:absolute;left:358.3px;top:507px;width:11px;height:11px;background:#2f83bd"></div>
<div class="t" style="left:388.2px;top:504px;font-size:17.6px;color:#0a0a0a;-webkit-text-stroke:0.35px #0a0a0a;">Europe</div>
<div style="position:absolute;left:476px;top:507px;width:11px;height:11px;background:#1b5ea4"></div>
<div class="t" style="left:504.6px;top:504px;font-size:17.6px;transform:scaleX(1.04);transform-origin:0 0;color:#0a0a0a;-webkit-text-stroke:0.35px #0a0a0a;">South America</div>
<div style="position:absolute;left:659.3px;top:507px;width:11px;height:11px;background:#08356a"></div>
<div class="t" style="left:688.3px;top:504px;font-size:17.6px;transform:scaleX(1.05);transform-origin:0 0;color:#0a0a0a;-webkit-text-stroke:0.35px #0a0a0a;">Middle East &amp; Africa</div>
<div class="t" style="left:54.6px;top:557px;font-size:12.6px;transform:scaleX(1.03);transform-origin:0 0;color:#f2f4f6;font-style:italic;">Contact: +13322586602</div>
<div class="t" style="left:628.3px;top:557px;font-size:12.6px;transform:scaleX(1.03);transform-origin:0 0;color:#f2f4f6;font-style:italic;">Email: sales@techsciresearch.com</div>
<div class="t" style="left:17.8px;top:13px;font-size:19.5px;transform:scaleX(0.977);transform-origin:0 0;color:#fff;">Global Virtual Event Platform Market, 2021-2031F</div>
</body></html>
